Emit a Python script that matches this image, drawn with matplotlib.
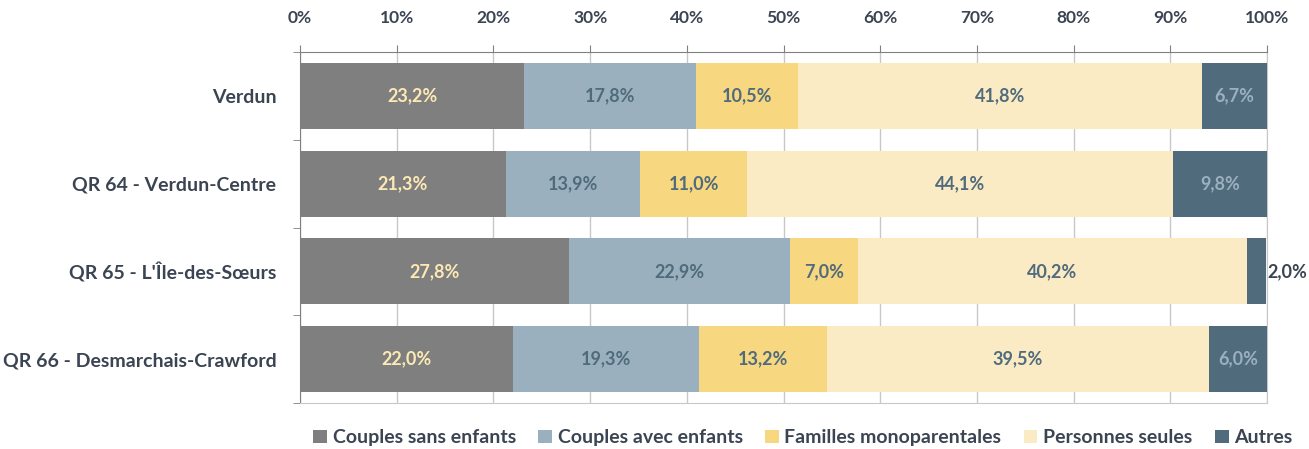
import matplotlib.pyplot as plt
import matplotlib.ticker as ticker
import numpy as np

plt.rcParams["font.family"] = ["Lato", "DejaVu Sans"]
plt.rcParams["font.weight"] = "bold"

categories = ["Verdun", "QR 64 - Verdun-Centre", "QR 65 - L'Île-des-Sœurs", "QR 66 - Desmarchais-Crawford"]
series_names = ["Couples sans enfants", "Couples avec enfants", "Familles monoparentales", "Personnes seules", "Autres"]
couples_sans = [23.2, 21.3, 27.8, 22.0]
couples_avec = [17.8, 13.9, 22.9, 19.3]
monoparentales = [10.5, 11.0, 7.0, 13.2]
seules = [41.8, 44.1, 40.2, 39.5]
autres = [6.7, 9.8, 2.0, 6.0]

colors = ["#7f7f7f", "#9bb0bf", "#f7d77f", "#fbebc4", "#4f6b7c"]
label_colors = ["#fce9b4", "#4f6b7c", "#4f6b7c", "#4f6b7c", "#9bb0bf"]
text_color = "#3b4452"

fig = plt.figure(figsize=(13.09, 4.49), dpi=100)
ax = fig.add_axes([300 / 1309, 1 - 403 / 449, 967 / 1309, 351 / 449])

y = np.arange(len(categories))
left = np.zeros(len(categories))
for name, vals, col, lcol in zip(series_names, [couples_sans, couples_avec, monoparentales, seules, autres], colors, label_colors):
    vals = np.array(vals)
    ax.barh(y, vals, left=left, height=0.75, color=col, label=name, zorder=3)
    for yi, l, v in zip(y, left, vals):
        txt = f"{v:.1f}%".replace(".", ",")
        if v < 4:
            ax.text(l + v + 0.1, yi, txt, ha="left", va="center", fontsize=13, color=text_color, fontweight="bold", clip_on=False)
        else:
            ax.text(l + v / 2, yi, txt, ha="center", va="center", fontsize=13, color=lcol, fontweight="bold")
    left += vals

ax.set_xlim(0, 100)
ax.set_ylim(len(categories) - 0.5, -0.5)
ax.xaxis.tick_top()
ax.xaxis.set_major_locator(ticker.MultipleLocator(10))
ax.xaxis.set_major_formatter(ticker.FuncFormatter(lambda v, p: f"{int(v)}%"))
ax.tick_params(axis="x", length=5, color="#808080", labelsize=12.5, labelcolor=text_color, pad=14)
ax.set_yticks(y)
ax.set_yticklabels(categories, fontsize=14, color=text_color)
ax.yaxis.set_minor_locator(ticker.FixedLocator(np.arange(-0.5, len(categories), 1)))
ax.tick_params(axis="y", which="major", length=0, pad=17)
ax.tick_params(axis="y", which="minor", length=5, color="#808080")
ax.grid(axis="x", color="#c8c8c8", linewidth=1, zorder=0)

ax.spines["top"].set_color("#808080")
ax.spines["left"].set_color("#808080")
ax.spines["bottom"].set_color("#c8c8c8")
ax.spines["right"].set_color("#c8c8c8")

ax.legend(loc="upper center", bbox_to_anchor=(0.52, -0.025), ncol=5, frameon=False, fontsize=14,
          handlelength=0.7, handleheight=0.7, handletextpad=0.3, columnspacing=1.15, labelcolor=text_color)

fig.savefig("out.png")
